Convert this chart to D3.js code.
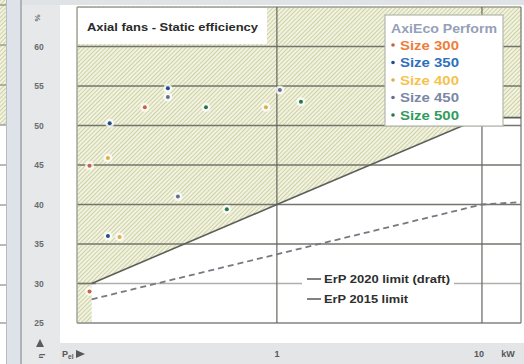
<!DOCTYPE html>
<html>
<head>
<meta charset="utf-8">
<script src="https://cdn.jsdelivr.net/npm/d3@7/dist/d3.min.js"></script>
<style>
  html, body { margin: 0; padding: 0; background: #e3e6e9; }
  svg { display: block; }
  text { font-family: "Liberation Sans", Arial, sans-serif; }
</style>
</head>
<body>
<svg id="chart" width="524" height="364"></svg>
<script>
// ---- data ----
const sizeNames = ["Size 300", "Size 350", "Size 400", "Size 450", "Size 500"];
const sizeColors = ["#ef7d3a", "#2e6fbe", "#f6c24e", "#7b87a6", "#2f9c5c"];
const dotColors  = ["#c9643a", "#1f4d8c", "#d9b04a", "#66708c", "#24784a"];

// electrical input power (kW) and static efficiency (%) per fan size
const power300 = [0.122, 0.122, 0.227];
const eff300   = [29.0, 44.9, 52.3];
const power350 = [0.150, 0.153, 0.294];
const eff350   = [36.0, 50.3, 54.7];
const power400 = [0.171, 0.150, 0.884];
const eff400   = [35.9, 45.9, 52.3];
const power450 = [0.294, 0.329, 1.034];
const eff450   = [53.6, 41.0, 54.5];
const power500 = [0.451, 1.31, 0.570];
const eff500   = [52.3, 53.0, 39.4];

const seriesPower = [power300, power350, power400, power450, power500];
const seriesEff   = [eff300, eff350, eff400, eff450, eff500];

// ErP limit curves
const limitPower2020 = [0.125, 1, 10, 15.5];
const limitEff2020   = [30, 40, 51, 51];
const limitPower2015 = [0.125, 1, 10, 15.5];
const limitEff2015   = [28, 33.7, 40, 40.3];

const yTicks = [25, 30, 35, 40, 45, 50, 55, 60];
const xTicks = [1, 10];
const xTickLabels = ["1", "10"];
const lowerPowerBound = 0.125;

// ---- layout ----
const svg = d3.select("#chart");
const plot = { left: 77, right: 521, top: 7, bottom: 323 };

const x = d3.scaleLog().domain([0.106, 15.5]).range([plot.left, plot.right]);
const y = d3.scaleLinear().domain([25, 65]).range([plot.bottom, plot.top]);

// hatch pattern
const defs = svg.append("defs");
const pat = defs.append("pattern")
  .attr("id", "hatch").attr("patternUnits", "userSpaceOnUse")
  .attr("width", 3).attr("height", 3)
  .attr("patternTransform", "rotate(45)");
pat.append("rect").attr("width", 3).attr("height", 3).attr("fill", "#f1f2e0");
pat.append("line").attr("x1", 0.5).attr("y1", 0).attr("x2", 0.5).attr("y2", 3)
  .attr("stroke", "#cfd2a6").attr("stroke-width", 1);

// neighbouring panel edge on the far left
svg.append("rect").attr("x", 0).attr("y", 0).attr("width", 6).attr("height", 364).attr("fill", "#ffffff");
svg.append("rect").attr("x", 0).attr("y", 0).attr("width", 6).attr("height", 125).attr("fill", "url(#hatch)");
[5, 45, 85, 125, 165, 205, 245, 285, 323].forEach(v => {
  svg.append("line").attr("x1", 0).attr("x2", 6).attr("y1", v).attr("y2", v)
    .attr("stroke", "#8a8a84").attr("stroke-width", 1.2);
});
svg.append("line").attr("x1", 6.5).attr("x2", 6.5).attr("y1", 0).attr("y2", 364)
  .attr("stroke", "#b8bcc0").attr("stroke-width", 1);
svg.append("rect").attr("x", 7).attr("y", 0).attr("width", 14).attr("height", 364).attr("fill", "#dde3e9");

// main panel frame
svg.append("rect").attr("x", 21).attr("y", 0).attr("width", 503).attr("height", 5).attr("fill", "#dfe3e6");
svg.append("line").attr("x1", 21).attr("x2", 21).attr("y1", 0).attr("y2", 364)
  .attr("stroke", "#9ea3a8").attr("stroke-width", 1.5);
svg.append("rect").attr("x", 22).attr("y", 5).attr("width", 38).attr("height", 359).attr("fill", "#e7e8e9");
svg.append("rect").attr("x", 60).attr("y", 5).attr("width", 464).attr("height", 338).attr("fill", "#ffffff");
svg.append("rect").attr("x", 60).attr("y", 343).attr("width", 464).attr("height", 21).attr("fill", "#e4e5e6");

// hatched region: below 0.125 kW, and above the 2020 limit
const hatchPts = [[x.domain()[0], 65], [x.domain()[0], 25], [lowerPowerBound, 25]];
limitPower2020.forEach((p, i) => hatchPts.push([p, limitEff2020[i]]));
hatchPts.push([x.domain()[1], 65]);
svg.append("path")
  .attr("d", d3.line().x(d => x(d[0])).y(d => y(d[1]))(hatchPts) + "Z")
  .attr("fill", "url(#hatch)");

// horizontal grid (the 30 % line is lighter outside the hatched strip)
svg.append("g").selectAll("line").data(yTicks.concat([65])).join("line")
  .attr("x1", plot.left).attr("x2", plot.right)
  .attr("y1", d => y(d)).attr("y2", d => y(d))
  .attr("stroke", d => d === 65 ? "#9a9c90" : (d === 25 ? "#a0a2a4" : (d === 30 ? "#aeb0ae" : "#74756c")))
  .attr("stroke-width", d => d === 25 ? 2.2 : 1.5);
svg.append("line").attr("x1", plot.left).attr("x2", x(lowerPowerBound) + 4)
  .attr("y1", y(30)).attr("y2", y(30)).attr("stroke", "#74756c").attr("stroke-width", 1.5);

// vertical grid at decades
svg.append("g").selectAll("line").data(xTicks).join("line")
  .attr("x1", d => x(d)).attr("x2", d => x(d))
  .attr("y1", plot.top).attr("y2", plot.bottom)
  .attr("stroke", "#66675f").attr("stroke-width", 1.2);
svg.append("line").attr("x1", plot.left).attr("x2", plot.left)
  .attr("y1", plot.top).attr("y2", plot.bottom)
  .attr("stroke", "#a3a59a").attr("stroke-width", 1.5);
svg.append("line").attr("x1", plot.right).attr("x2", plot.right)
  .attr("y1", plot.top).attr("y2", plot.bottom)
  .attr("stroke", "#74756c").attr("stroke-width", 1.2);

// limit curves
const limLine = d3.line().x(d => x(d[0])).y(d => y(d[1]));
svg.append("path")
  .attr("d", limLine(limitPower2015.map((p, i) => [p, limitEff2015[i]])))
  .attr("fill", "none").attr("stroke", "#767a80").attr("stroke-width", 1.8)
  .attr("stroke-dasharray", "6,4");
svg.append("path")
  .attr("d", limLine(limitPower2020.map((p, i) => [p, limitEff2020[i]])))
  .attr("fill", "none").attr("stroke", "#5d6058").attr("stroke-width", 1.6);

// title box
svg.append("rect").attr("x", plot.left + 1).attr("y", plot.top + 1)
  .attr("width", 189).attr("height", 36).attr("fill", "#ffffff");
svg.append("text").attr("x", 87).attr("y", 31)
  .attr("font-size", 11.5).attr("font-weight", "bold").attr("fill", "#2a2a2a")
  .attr("textLength", 171).attr("lengthAdjust", "spacingAndGlyphs")
  .text("Axial fans - Static efficiency");

// size legend box
const lg = svg.append("g");
lg.append("rect").attr("x", 385).attr("y", 15).attr("width", 118).attr("height", 111)
  .attr("fill", "#ffffff").attr("stroke", "#b4b7ad").attr("stroke-width", 1.2);
lg.append("text").attr("x", 391).attr("y", 33)
  .attr("font-family", "DejaVu Sans").attr("font-size", 12).attr("font-weight", "bold")
  .attr("fill", "#95a0b8").attr("textLength", 106).attr("lengthAdjust", "spacingAndGlyphs")
  .text("AxiEco Perform");
sizeNames.forEach((name, i) => {
  const cy = 45 + i * 17.5;
  lg.append("circle").attr("cx", 393).attr("cy", cy).attr("r", 1.8).attr("fill", dotColors[i]);
  lg.append("text").attr("x", 400).attr("y", cy + 4.5)
    .attr("font-family", "DejaVu Sans").attr("font-size", 12.5).attr("font-weight", "bold")
    .attr("fill", sizeColors[i]).attr("textLength", 59).attr("lengthAdjust", "spacingAndGlyphs")
    .text(name);
});

// measured points
sizeNames.forEach((name, i) => {
  const pts = seriesPower[i].map((p, j) => [p, seriesEff[i][j]]);
  const g = svg.append("g");
  g.selectAll("circle.halo").data(pts).join("circle").attr("class", "halo")
    .attr("cx", d => x(d[0])).attr("cy", d => y(d[1])).attr("r", 4.5)
    .attr("fill", "#ffffff").attr("opacity", 0.75);
  g.selectAll("circle.dot").data(pts).join("circle").attr("class", "dot")
    .attr("cx", d => x(d[0])).attr("cy", d => y(d[1])).attr("r", 2)
    .attr("fill", dotColors[i]);
});

// limit legend
const limLegend = [
  { label: "ErP 2020 limit (draft)", w: 126 },
  { label: "ErP 2015 limit", w: 84 }
];
limLegend.forEach((d, i) => {
  const cy = 279 + i * 20;
  svg.append("rect").attr("x", 302).attr("y", cy - 8).attr("width", d.w + 26).attr("height", 16).attr("fill", "#ffffff");
  svg.append("line").attr("x1", 307).attr("x2", 321).attr("y1", cy).attr("y2", cy)
    .attr("stroke", "#55585c").attr("stroke-width", 1.5);
  svg.append("text").attr("x", 324).attr("y", cy + 4)
    .attr("font-size", 10.5).attr("font-weight", "bold").attr("fill", "#2e2e2e")
    .attr("textLength", d.w).attr("lengthAdjust", "spacingAndGlyphs")
    .text(d.label);
});

// y-axis labels
svg.append("g").selectAll("text").data(yTicks).join("text")
  .attr("x", 39).attr("y", d => y(d) + 3)
  .attr("text-anchor", "middle").attr("font-size", 8.5).attr("font-weight", "bold")
  .attr("fill", "#6a6c6e").text(d => d);
svg.append("text").attr("transform", "translate(40,18) rotate(-90)")
  .attr("text-anchor", "middle").attr("font-size", 8).attr("font-weight", "bold")
  .attr("fill", "#6a6c6e").text("%");
svg.append("path").attr("d", "M36,347 L40,339 L44,347 Z").attr("fill", "#5a5c5e");
svg.append("text").attr("transform", "translate(43,356) rotate(-90)")
  .attr("text-anchor", "middle").attr("font-size", 8).attr("font-weight", "bold")
  .attr("fill", "#5a5c5e").text("η");

// x-axis labels
svg.append("g").selectAll("text").data(xTicks).join("text")
  .attr("x", (d, i) => x(d) + (i === 1 ? -3 : 0)).attr("y", 357)
  .attr("text-anchor", "middle").attr("font-size", 9).attr("font-weight", "bold")
  .attr("fill", "#555759").text((d, i) => xTickLabels[i]);
svg.append("text").attr("x", 508).attr("y", 357).attr("text-anchor", "middle")
  .attr("font-size", 9).attr("font-weight", "bold").attr("fill", "#555759").text("kW");
const pel = svg.append("text").attr("x", 62).attr("y", 357)
  .attr("font-size", 9).attr("font-weight", "bold").attr("fill", "#555759");
pel.append("tspan").text("P");
pel.append("tspan").attr("font-size", 6.5).attr("dy", 2).text("el");
svg.append("path").attr("d", "M76,350 L85,354 L76,358 Z").attr("fill", "#555759");
</script>
</body>
</html>
